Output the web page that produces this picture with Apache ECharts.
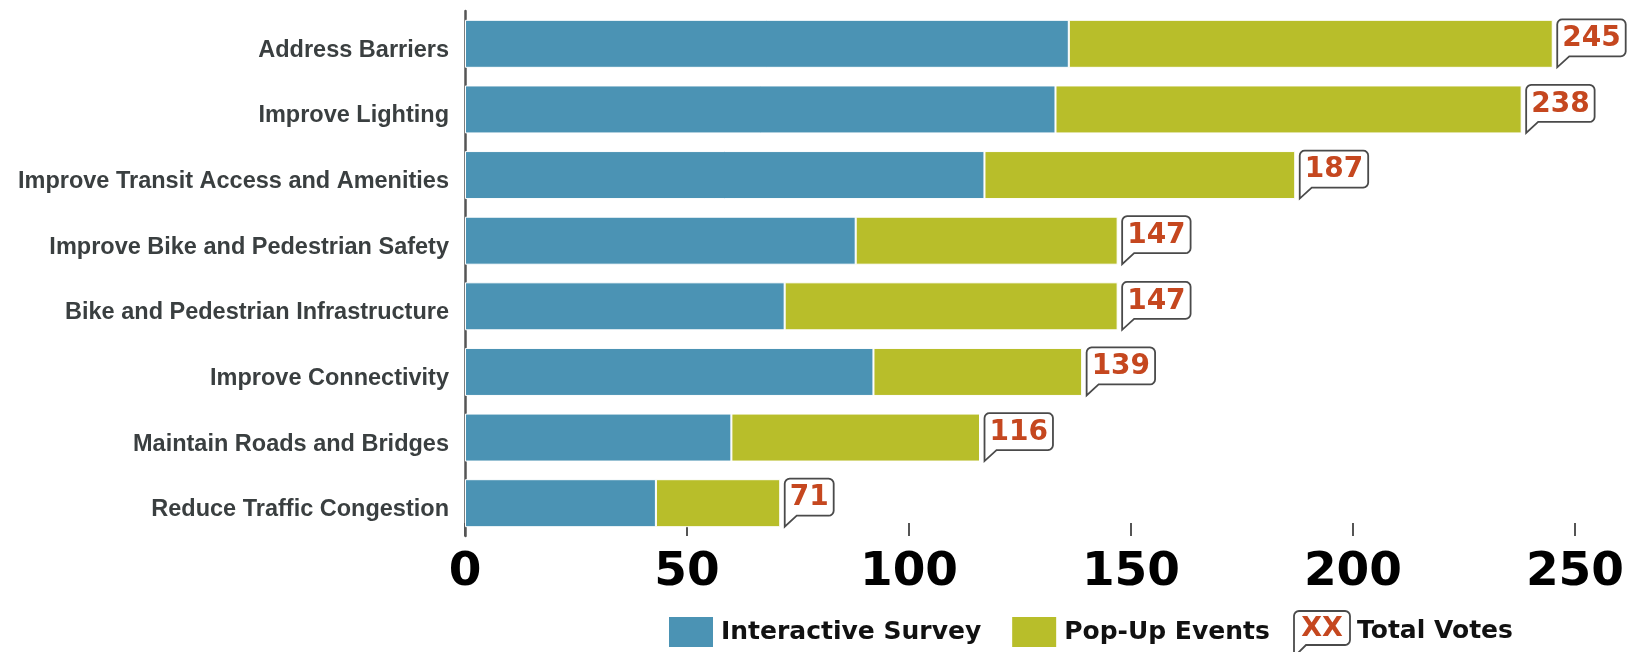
<!DOCTYPE html>
<html>
<head>
<meta charset="utf-8">
<title>Total votes by priority</title>
<script src="https://cdn.jsdelivr.net/npm/echarts@6/dist/echarts.min.js"></script>
<style>
  html, body { margin: 0; padding: 0; background: #fff; }
  #chart { width: 1627px; height: 652px; }
</style>
</head>
<body>
<div id="chart"></div>
<script>
  const categories = [
    'Address Barriers',
    'Improve Lighting',
    'Improve Transit Access and Amenities',
    'Improve Bike and Pedestrian Safety',
    'Bike and Pedestrian Infrastructure',
    'Improve Connectivity',
    'Maintain Roads and Bridges',
    'Reduce Traffic Congestion',
  ]
  const surveyVotes = [136, 133, 117, 88, 72, 92, 60, 43]
  const popUpVotes = [109, 105, 70, 59, 75, 47, 56, 28]
  const totalVotes = [245, 238, 187, 147, 147, 139, 116, 71]
  const xTicks = [0, 50, 100, 150, 200, 250]

  const BLUE = '#4b93b4'
  const GREEN = '#b8be2a'
  const RED = '#c5471f'
  const OUTLINE = '#4a4a4a'
  const BUBBLE_FONT = 'bold 28px "DejaVu Sans"'
  const LEGEND_FONT = 'bold 25px "DejaVu Sans"'

  const measureCtx = document.createElement('canvas').getContext('2d')
  function textWidth(text, font) {
    measureCtx.font = font
    return measureCtx.measureText(text).width
  }

  // speech bubble outline: rounded box, tail hanging down from the lower left corner
  function bubblePoints(x, y, w, h, tipY, r) {
    const pts = []
    const arc = (cx, cy, a0) => {
      for (let k = 0; k <= 4; k++) {
        const a = a0 + (k * Math.PI) / 8
        pts.push([cx + r * Math.cos(a), cy + r * Math.sin(a)])
      }
    }
    arc(x + r, y + r, Math.PI)
    arc(x + w - r, y + r, Math.PI * 1.5)
    arc(x + w - r, y + h - r, 0)
    pts.push([x + 12, y + h])
    pts.push([x, tipY])
    return pts
  }

  function renderBubble(params, api) {
    const end = api.coord([api.value(0), api.value(1)])
    const barH = 47
    const text = String(api.value(0))
    const w = textWidth(text, BUBBLE_FONT) + 10
    const x0 = end[0] + 4.5
    const top = end[1] - barH / 2 - 1
    const boxH = 37
    return {
      type: 'group',
      children: [
        {
          type: 'polygon',
          shape: { points: bubblePoints(x0, top, w, boxH, end[1] + barH / 2, 5) },
          style: { fill: '#fff', stroke: OUTLINE, lineWidth: 1.8 },
        },
        {
          type: 'text',
          x: x0 + w / 2,
          y: top + boxH / 2 + 1,
          style: { text, font: BUBBLE_FONT, fill: RED, align: 'center', verticalAlign: 'middle' },
        },
      ],
    }
  }

  const chart = echarts.init(document.getElementById('chart'))

  chart.setOption({
    animation: false,
    grid: { left: 465, right: 50, top: 11, bottom: 116, containLabel: false },
    legend: {
      data: ['Interactive Survey', 'Pop-Up Events'],
      left: 667,
      top: 615,
      padding: 0,
      icon: 'rect',
      itemWidth: 46,
      itemHeight: 32,
      itemGap: 29,
      textStyle: {
        fontFamily: 'DejaVu Sans',
        fontWeight: 'bold',
        fontSize: 25,
        color: '#111',
        padding: [0, 0, 0, 2],
      },
    },
    xAxis: {
      type: 'value',
      min: xTicks[0],
      max: xTicks[xTicks.length - 1],
      interval: xTicks[1] - xTicks[0],
      axisLine: { show: false },
      axisTick: { show: true, inside: true, length: 13, lineStyle: { color: '#555', width: 2 } },
      splitLine: { show: false },
      axisLabel: {
        margin: 13,
        fontFamily: 'DejaVu Sans',
        fontWeight: 'bold',
        fontSize: 47,
        color: '#000',
      },
    },
    yAxis: {
      type: 'category',
      inverse: true,
      data: categories,
      axisTick: { show: false },
      axisLine: { show: true, lineStyle: { color: '#555', width: 2.5 } },
      axisLabel: {
        margin: 16,
        verticalAlign: 'top',
        lineHeight: 13,
        fontFamily: 'Liberation Sans',
        fontWeight: 'bold',
        fontSize: 23.5,
        color: '#3a3f40',
      },
    },
    graphic: [
      {
        type: 'group',
        x: 1294,
        y: 611,
        children: [
          {
            type: 'polygon',
            shape: { points: bubblePoints(0, 0, 56, 34, 46, 5) },
            style: { fill: '#fff', stroke: OUTLINE, lineWidth: 1.8 },
          },
          {
            type: 'text',
            x: 28,
            y: 18,
            style: { text: 'XX', font: 'bold 27px "DejaVu Sans"', fill: RED, align: 'center', verticalAlign: 'middle' },
          },
        ],
      },
      {
        type: 'text',
        x: 1357,
        y: 631,
        style: { text: 'Total Votes', font: LEGEND_FONT, fill: '#111', verticalAlign: 'middle' },
      },
    ],
    series: [
      {
        name: 'Interactive Survey',
        type: 'bar',
        stack: 'votes',
        barWidth: 48,
        data: surveyVotes,
        itemStyle: { color: BLUE, borderColor: '#fff', borderWidth: 1 },
      },
      {
        name: 'Pop-Up Events',
        type: 'bar',
        stack: 'votes',
        barWidth: 48,
        data: popUpVotes,
        itemStyle: { color: GREEN, borderColor: '#fff', borderWidth: 1 },
      },
      {
        name: 'Total Votes',
        type: 'custom',
        renderItem: renderBubble,
        encode: { x: 0, y: 1 },
        data: totalVotes.map((v, i) => [v, i]),
        z: 5,
      },
    ],
  })
</script>
</body>
</html>
